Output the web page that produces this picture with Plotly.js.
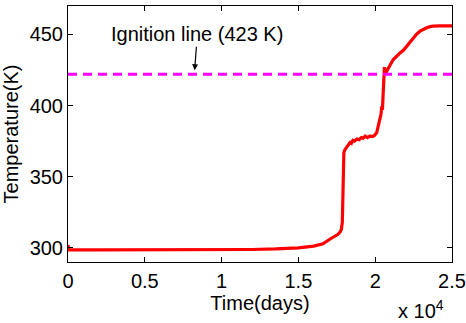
<!DOCTYPE html>
<html>
<head>
<meta charset="utf-8">
<script src="https://cdn.plot.ly/plotly-3.0.1.min.js"></script>
<style>html,body{margin:0;padding:0;background:#fff;}#chart{width:466px;height:323px;}</style>
</head>
<body>
<div id="chart"></div>
<script>
const timeDays = [0, 20, 60, 2000, 5000, 8000, 10000, 12000, 13500, 15000, 16000, 16600, 17040, 17400, 17580, 17710, 17800, 17860, 17900, 17925, 17960, 18030, 18150, 18250, 18360, 18450, 18550, 18650, 18800, 18950, 19100, 19210, 19350, 19500, 19650, 19860, 19950, 20100, 20200, 20320, 20380, 20425, 20470, 20500, 20530, 20560, 20580, 20600, 20640, 20750, 20860, 21000, 21180, 21400, 21620, 21850, 22050, 22250, 22480, 22700, 22920, 23150, 23350, 23580, 23780, 24200, 25000];
const temperatureK = [302, 298.6, 298.5, 298.5, 298.5, 298.5, 298.6, 298.8, 299.2, 300, 301.2, 302.8, 306, 308, 309.5, 311, 313, 318, 340, 362, 367, 369, 371, 372.5, 374, 373.5, 375.5, 375, 376.5, 376, 377.5, 377, 378.5, 377.5, 378.5, 378.4, 379, 381, 385, 390, 394, 399.5, 397, 404, 410, 413.6, 418, 427, 422, 424.5, 426.5, 429, 432.4, 435, 437, 439, 441.8, 444.5, 447.6, 450.3, 452.3, 453.8, 454.7, 455.5, 455.9, 456, 456];
const ignitionX = [0, 25000];
const ignitionY = [422, 422];
const xTickVals = [0, 5000, 10000, 15000, 20000, 25000];
const xTickText = ['0', '0.5', '1', '1.5', '2', '2.5'];
const yTickVals = [300, 350, 400, 450];

const font = {family: 'Liberation Sans, Arial, sans-serif', color: '#000'};
const f20 = Object.assign({size: 20}, font);

const traces = [
  {x: timeDays, y: temperatureK, type: 'scatter', mode: 'lines',
   line: {color: '#ff0000', width: 3.2}, hoverinfo: 'skip'},
  {x: ignitionX, y: ignitionY, type: 'scatter', mode: 'lines',
   line: {color: '#ff00ff', width: 3, dash: '9px,6px'}, hoverinfo: 'skip'}
];

const layout = {
  width: 466, height: 323,
  margin: {l: 68, r: 14, t: 6, b: 61},
  paper_bgcolor: '#fff', plot_bgcolor: '#fff',
  showlegend: false,
  font: f20,
  xaxis: {
    range: [0, 25000], tickvals: xTickVals, ticktext: xTickText,
    ticks: 'inside', ticklen: 5, tickcolor: '#000', mirror: 'ticks',
    showline: true, linecolor: '#000', linewidth: 1, showgrid: false, zeroline: false,
    tickfont: f20, ticklabelstandoff: 1,
    title: {text: 'Time(days)', font: f20, standoff: 0}
  },
  yaxis: {
    range: [290, 470], tickvals: yTickVals,
    ticks: 'inside', ticklen: 5, tickcolor: '#000', mirror: 'ticks',
    showline: true, linecolor: '#000', linewidth: 1, showgrid: false, zeroline: false,
    tickfont: f20,
    title: {text: 'Temperature(K)', font: f20, standoff: 6}
  },
  annotations: [
    {x: 0.329, y: 422, xref: 'paper', yref: 'y', text: 'Ignition line (423 K)',
     showarrow: true, arrowhead: 2, arrowsize: 1, arrowwidth: 1.2, arrowcolor: '#000',
     ax: 3, ay: -40, font: f20, standoff: 4},
    {x: 0.984, y: -0.128, xref: 'paper', yref: 'paper', xanchor: 'right', yanchor: 'top',
     text: 'x 10<sup>4</sup>', showarrow: false, font: f20}
  ]
};

Plotly.newPlot('chart', traces, layout, {displayModeBar: false, staticPlot: true});
</script>
</body>
</html>
